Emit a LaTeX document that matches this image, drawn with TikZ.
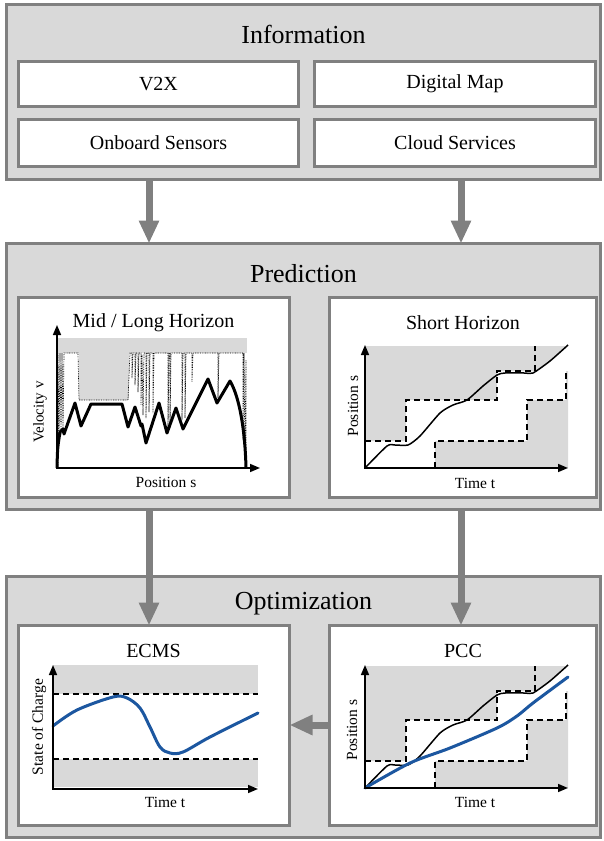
\documentclass[tikz,border=0pt]{standalone}
\usepackage{fontspec}
\setmainfont{Liberation Serif}
\usetikzlibrary{arrows.meta}
\definecolor{boxgray}{RGB}{217,217,217}
\definecolor{edgegray}{RGB}{128,128,128}
\definecolor{plotgray}{RGB}{217,217,217}
\definecolor{socblue}{RGB}{28,87,160}
\begin{document}
\begin{tikzpicture}[x=1pt,y=-1pt,
  outerbox/.style={draw=edgegray, fill=boxgray, line width=3pt, inner sep=0pt, outer sep=0pt},
  innerbox/.style={draw=edgegray, fill=white, line width=3pt, inner sep=0pt, outer sep=0pt},
  titletext/.style={font=\fontsize{26}{31}\selectfont, inner sep=0pt},
  boxtext/.style={font=\fontsize{20}{24}\selectfont},
  plottitle/.style={font=\fontsize{20}{24}\selectfont, inner sep=0pt},
  axlabel/.style={font=\fontsize{15.5}{18}\selectfont, inner sep=0pt},
  bigarrow/.style={draw=edgegray, line width=7pt, -{Triangle[width=19pt,length=23pt]}},
  axisline/.style={line width=1.6pt, {Triangle[width=8pt,length=10pt]}-{Triangle[width=8pt,length=10pt]}},
  limitline/.style={line width=1.5pt, dash pattern=on 6pt off 4pt},
  dotline/.style={line width=0.7pt, dash pattern=on 0.8pt off 0.9pt},
  thinprofile/.style={line width=1.5pt, line join=round},
  thickprofile/.style={line width=3pt, line join=round},
  bluecurve/.style={draw=socblue, line width=3pt, line cap=round}
]
\useasboundingbox (0,0) rectangle (603,841);

% outer boxes
\node[outerbox, minimum width=594pt, minimum height=175pt] (info) at (303.5,92) {};
\node[outerbox, minimum width=594pt, minimum height=266pt] (pred) at (303.5,376.5) {};
\node[outerbox, minimum width=594pt, minimum height=261pt] (opt) at (303.5,707) {};

\node[titletext] (infot) at (303.5,34) {Information};
\node[titletext] (predt) at (303.5,274) {Prediction};
\node[titletext] (optt) at (303.5,604) {Optimization};

% information boxes
\node[innerbox, boxtext, minimum width=280pt, minimum height=45pt] (v2x) at (158.5,84) {V2X};
\node[innerbox, boxtext, minimum width=281pt, minimum height=45pt] (map) at (455,84) {Digital Map};
\node[innerbox, boxtext, minimum width=280pt, minimum height=47pt] (sens) at (158.5,143) {Onboard Sensors};
\node[innerbox, boxtext, minimum width=281pt, minimum height=47pt] (cloud) at (455,143) {Cloud Services};

% panels
\node[innerbox, minimum width=271pt, minimum height=200pt] (mlh) at (154,397.5) {};
\node[innerbox, minimum width=267pt, minimum height=200pt] (sh) at (463,397.5) {};
\node[innerbox, minimum width=271pt, minimum height=200pt] (ecms) at (154,725.5) {};
\node[innerbox, minimum width=267pt, minimum height=200pt] (pcc) at (463,725.5) {};

% connectors
\coordinate (ca) at (149,0);
\coordinate (cb) at (461,0);
\coordinate (cc) at (0,725);
\draw[bigarrow] (info.south -| ca) -- (pred.north -| ca);
\draw[bigarrow] (info.south -| cb) -- (pred.north -| cb);
\draw[bigarrow] (pred.south -| ca) -- (ecms.north -| ca);
\draw[bigarrow] (pred.south -| cb) -- (pcc.north -| cb);
\draw[bigarrow] (pcc.west |- cc) -- (ecms.east |- cc);

% ---------- Mid / Long Horizon ----------
\node[plottitle] (mlht) at (153.5,323) {Mid / Long Horizon};
\node[axlabel] (mlhx) at (166,482) {Position s};
\node[axlabel, rotate=90, font=\fontsize{15}{18}\selectfont] (mlhy) at (40,412) {Velocity v};
\begin{scope}[shift={(57,468)}]
  \fill[plotgray] (0,-130) rectangle (190,-115);
  \fill[plotgray] (22,-115) rectangle (72,-68);
  \draw[dotline] (1,0) -- (1,-115) -- (2,-28) -- (3,-115) -- (4,-33) -- (5,-115) -- (6,-38) -- (7,-115)
    -- (21,-115) -- (22,-68) -- (71,-68) -- (73,-115) -- (75,-115) -- (75,-90) -- (76,-115)
    -- (78,-115) -- (78,-83) -- (79,-115) -- (81,-115) -- (81,-76) -- (82,-115) -- (84,-115)
    -- (84,-63) -- (85,-113) -- (86,-53) -- (87,-115) -- (89,-115) -- (89,-50) -- (90,-115)
    -- (92,-115) -- (92,-56) -- (93,-115) -- (96,-115) -- (96,-55) -- (97,-115) -- (111,-115)
    -- (111,-38) -- (112,-115) -- (113,-115) -- (113,-40) -- (114,-115) -- (125,-115) -- (125,-48)
    -- (126,-115) -- (128,-115) -- (128,-50) -- (129,-115) -- (135,-115) -- (135,-86) -- (136,-115)
    -- (161,-115) -- (161,-70) -- (162,-115) -- (186,-115) -- (186,-28) -- (187,-115) -- (188,-8)
    -- (189,-108) -- (189,0);
  \draw[thickprofile] (0,0) .. controls (0.5,-20) .. (3,-36) -- (6,-39) -- (7,-34) -- (18,-65) -- (24,-42)
    -- (34,-64) -- (65,-64) -- (71,-41) -- (78,-61) -- (84,-42) -- (85,-44) -- (89,-25) -- (102,-65)
    -- (110,-35) -- (119,-60) -- (126,-39) -- (151,-89) -- (160,-65) -- (173,-87)
    .. controls (182,-72) and (188,-40) .. (189,0);
  \draw[axisline] (0,-143) -- (0,0) -- (203,0);
\end{scope}

% ---------- Short Horizon ----------
\node[plottitle] (sht) at (463,323) {Short Horizon};
\node[axlabel] (shx) at (475,483) {Time t};
\node[axlabel, rotate=90] (shy) at (353,406) {Position s};
\begin{scope}[shift={(365,468)}]
  \fill[plotgray] (0,-122) -- (203,-122) -- (203,-123) -- (185,-107) -- (170,-97) -- (132,-97) -- (132,-68)
    -- (41,-68) -- (41,-27) -- (0,-27) -- cycle;
  \fill[plotgray] (70,0) -- (70,-27) -- (162,-27) -- (162,-68) -- (201,-68) -- (201,-97) -- (203,-97)
    -- (203,0) -- cycle;
  \draw[limitline] (0,-27) -- (41,-27) -- (41,-68) -- (132,-68) -- (132,-97) -- (170,-97) -- (170,-122);
  \draw[limitline] (70,0) -- (70,-27) -- (162,-27) -- (162,-68) -- (201,-68) -- (201,-97);
  \draw[thinprofile] plot[smooth, tension=0.4] coordinates {(0,0) (22,-22) (30,-23) (43,-23) (55,-32)
    (75,-55) (88,-63) (102,-68) (118,-82) (132,-93) (140,-95) (160,-95) (168,-95) (185,-107) (203,-123)};
  \draw[axisline] (0,-123) -- (0,0) -- (203,0);
\end{scope}

% ---------- ECMS ----------
\node[plottitle] (ecmst) at (153.5,651) {ECMS};
\node[axlabel] (ecmsx) at (165,802) {Time t};
\node[axlabel, rotate=90] (ecmsy) at (39,727) {State of Charge};
\begin{scope}[shift={(53,789)}]
  \fill[plotgray] (0,-124) rectangle (205,-95);
  \fill[plotgray] (0,-30) rectangle (205,-2);
  \draw[limitline] (0,-95) -- (205,-95);
  \draw[limitline] (0,-30) -- (205,-30);
  \draw[bluecurve] plot[smooth, tension=0.55] coordinates {(0,-63) (24,-79) (60,-92) (74,-91) (87,-81)
    (97,-62) (107,-42) (117,-36) (130,-37) (157,-52) (205,-76)};
  \draw[axisline] (0,-124) -- (0,0) -- (205,0);
\end{scope}

% ---------- PCC ----------
\node[plottitle] (pcct) at (463,651) {PCC};
\node[axlabel] (pccx) at (475,802) {Time t};
\node[axlabel, rotate=90] (pccy) at (352,730) {Position s};
\begin{scope}[shift={(365,788)}]
  \fill[plotgray] (0,-122) -- (203,-122) -- (203,-123) -- (185,-107) -- (170,-97) -- (132,-97) -- (132,-68)
    -- (41,-68) -- (41,-27) -- (0,-27) -- cycle;
  \fill[plotgray] (70,0) -- (70,-27) -- (162,-27) -- (162,-68) -- (201,-68) -- (201,-97) -- (203,-97)
    -- (203,0) -- cycle;
  \draw[limitline] (0,-27) -- (41,-27) -- (41,-68) -- (132,-68) -- (132,-97) -- (170,-97) -- (170,-122);
  \draw[limitline] (70,0) -- (70,-27) -- (162,-27) -- (162,-68) -- (201,-68) -- (201,-97);
  \draw[thinprofile] plot[smooth, tension=0.4] coordinates {(0,0) (22,-22) (30,-23) (43,-23) (55,-32)
    (75,-55) (88,-63) (102,-68) (118,-82) (132,-93) (140,-95) (160,-95) (168,-95) (185,-107) (203,-123)};
  \draw[bluecurve] plot[smooth, tension=0.5] coordinates {(0,0) (45,-25) (85,-40) (132,-60) (152,-72)
    (168,-85) (203,-111)};
  \draw[axisline] (0,-123) -- (0,0) -- (203,0);
\end{scope}
\end{tikzpicture}
\end{document}
